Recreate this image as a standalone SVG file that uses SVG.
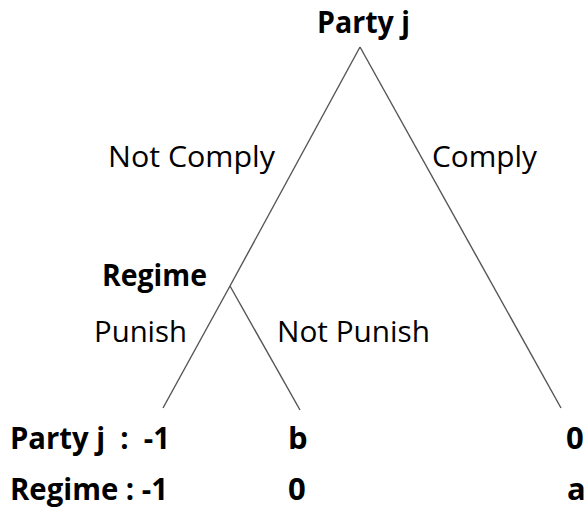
<svg xmlns="http://www.w3.org/2000/svg" width="586" height="510" viewBox="0 0 586 510">
<style>
text{font-family:"Open Sans","Noto Sans","Liberation Sans",sans-serif;font-size:30px;fill:#000}
.b{font-weight:bold}
.p{font-size:31px;white-space:pre}
.edge{stroke:#555;stroke-width:1.4;fill:none}
</style>
<rect width="586" height="510" fill="#fff"/>
<g id="connectors">
<line class="edge" x1="360" y1="47" x2="230" y2="286"/>
<line class="edge" x1="360" y1="47" x2="561" y2="408"/>
<line class="edge" x1="230" y1="286" x2="163" y2="408"/>
<line class="edge" x1="230" y1="286" x2="300" y2="410"/>
</g>
<g id="node-partyj"><text class="b" x="317" y="33" textLength="93" lengthAdjust="spacingAndGlyphs">Party j</text></g>
<g id="node-regime"><text class="b" x="102" y="286" textLength="105" lengthAdjust="spacingAndGlyphs">Regime</text></g>
<g id="labels">
<text x="108" y="167" textLength="167" lengthAdjust="spacingAndGlyphs">Not Comply</text>
<text x="432" y="167" textLength="105" lengthAdjust="spacingAndGlyphs">Comply</text>
<text x="94" y="342" textLength="93" lengthAdjust="spacingAndGlyphs">Punish</text>
<text x="277" y="342" textLength="153" lengthAdjust="spacingAndGlyphs">Not Punish</text>
</g>
<g id="payoffs">
<text class="b p" x="10" y="449" xml:space="preserve" textLength="160" lengthAdjust="spacingAndGlyphs">Party j  :  -1</text>
<text class="b p" x="288" y="449">b</text>
<text class="b p" x="566" y="449">0</text>
<text class="b p" x="10" y="500" textLength="158" lengthAdjust="spacingAndGlyphs">Regime : -1</text>
<text class="b p" x="288" y="500">0</text>
<text class="b p" x="567" y="500">a</text>
</g>
</svg>
